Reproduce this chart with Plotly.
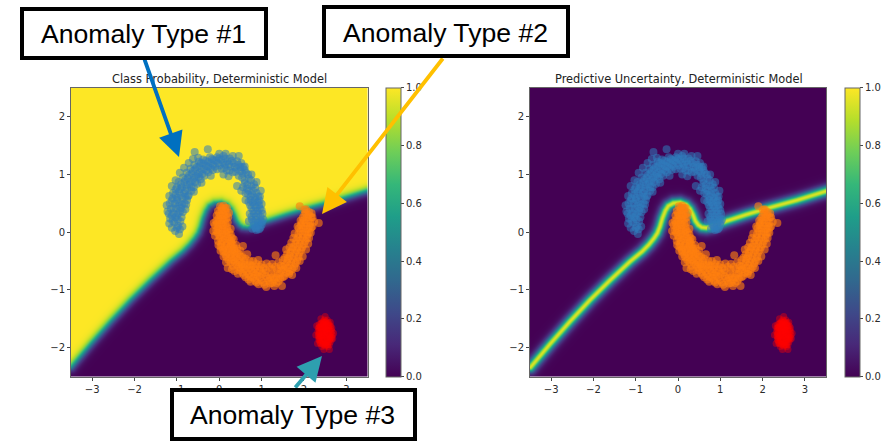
import numpy as np
import plotly.graph_objects as go

W, H = 884, 441

TITLES = ["Class Probability, Deterministic Model", "Predictive Uncertainty, Deterministic Model"]
BOX_LABELS = ["Anomaly Type #1", "Anomaly Type #2", "Anomaly Type #3"]
X_TICKS = [-3, -2, -1, 0, 1, 2, 3]
Y_TICKS = [-2, -1, 0, 1, 2]
CBAR_TICKS = [0.0, 0.2, 0.4, 0.6, 0.8, 1.0]

# decision boundary (data coordinates)
BOUNDARY_X = [-3.5, -3.03, -2.56, -2.09, -1.62, -1.14, -0.86, -0.7, -0.58, -0.5, -0.44, -0.38, -0.31, -0.24, -0.12, 0.04, 0.18, 0.27, 0.34, 0.4, 0.47, 0.55, 0.66, 0.79, 1.1, 1.6, 2.2, 2.8, 3.5]
BOUNDARY_Y = [-2.34, -1.93, -1.54, -1.17, -0.83, -0.5, -0.33, -0.21, -0.1, -0.01, 0.1, 0.25, 0.38, 0.46, 0.51, 0.52, 0.48, 0.41, 0.31, 0.2, 0.13, 0.09, 0.08, 0.1, 0.19, 0.31, 0.44, 0.56, 0.72]

BLUE_POINTS = [
    (-0.95, -0.03), (-1.04, 0.02), (-0.93, 0.05), (-1.12, 0.08), (-0.97, 0.11), (-0.87, 0.1), (-1.18, 0.15),
    (-1.06, 0.17), (-0.92, 0.19), (-1.16, 0.24), (-1.03, 0.26), (-0.89, 0.26), (-1.19, 0.32), (-1.08, 0.33),
    (-0.96, 0.33), (-0.86, 0.35), (-1.14, 0.41), (-1.02, 0.41), (-0.9, 0.42), (-0.8, 0.4), (-1.17, 0.5),
    (-1.05, 0.5), (-0.94, 0.52), (-0.82, 0.5), (-1.1, 0.59), (-0.99, 0.6), (-0.87, 0.59), (-0.76, 0.56),
    (-1.09, 0.68), (-0.95, 0.7), (-0.83, 0.68), (-0.72, 0.64), (-1.0, 0.78), (-0.88, 0.78), (-0.76, 0.76),
    (-0.66, 0.72), (-0.96, 0.87), (-0.82, 0.87), (-0.7, 0.83), (-0.6, 0.78), (-0.86, 0.95), (-0.74, 0.94),
    (-0.63, 0.9), (-0.52, 0.84), (-0.77, 1.03), (-0.65, 1.02), (-0.54, 0.97), (-0.44, 0.92), (-0.68, 1.1),
    (-0.57, 1.09), (-0.46, 1.04), (-0.35, 0.98), (-0.59, 1.17), (-0.47, 1.15), (-0.36, 1.1), (-0.26, 1.04),
    (-0.58, 1.39), (-0.48, 1.22), (-0.37, 1.19), (-0.26, 1.14), (-0.15, 1.08), (-0.38, 1.26), (-0.27, 1.44),
    (-0.26, 1.22), (-0.15, 1.17), (-0.05, 1.09), (-0.22, 1.3), (-0.13, 1.25), (-0.03, 1.2), (0.06, 1.1),
    (-0.05, 1.3), (0.05, 1.25), (0.14, 1.17), (0.18, 1.07), (0.1, 1.32), (0.19, 1.23), (0.27, 1.14),
    (0.32, 1.04), (0.25, 1.28), (0.34, 1.2), (0.41, 1.1), (0.46, 1.32), (0.42, 1.23), (0.5, 1.13),
    (0.46, 0.98), (0.55, 1.02), (0.52, 1.2), (0.6, 1.08), (0.6, 0.9), (0.68, 1.0), (0.56, 0.78),
    (0.66, 0.82), (0.75, 0.9), (0.82, 0.83), (0.7, 0.72), (0.8, 0.72), (0.62, 0.68), (0.88, 0.68),
    (0.74, 0.62), (0.85, 0.6), (0.96, 0.62), (0.69, 0.53), (0.79, 0.52), (0.91, 0.52), (1.0, 0.49),
    (0.76, 0.42), (0.86, 0.43), (0.96, 0.41), (0.72, 0.32), (0.82, 0.32), (0.92, 0.32), (1.02, 0.32),
    (0.77, 0.22), (0.87, 0.22), (0.97, 0.2), (1.04, 0.22), (0.7, 0.19), (0.82, 0.13), (0.92, 0.12),
    (1.0, 0.13), (0.78, 0.06), (0.88, 0.04), (0.97, 0.08), (0.86, 0.07),
    # points filling the dense middle of the band
    (-1.0, 0.08), (-1.1, 0.2), (-0.98, 0.22), (-1.12, 0.29), (-1.0, 0.3), (-0.92, 0.37), (-1.08, 0.42), (-0.96, 0.46),
    (-1.12, 0.55), (-1.0, 0.56), (-0.88, 0.48), (-1.03, 0.65), (-0.91, 0.64), (-0.8, 0.62), (-1.03, 0.74), (-0.92, 0.75),
    (-0.8, 0.72), (-0.9, 0.83), (-0.77, 0.82), (-0.66, 0.78), (-0.8, 0.91), (-0.68, 0.88), (-0.57, 0.87), (-0.71, 0.99),
    (-0.59, 0.95), (-0.48, 0.96), (-0.62, 1.06), (-0.51, 1.01), (-0.4, 1.01), (-0.53, 1.13), (-0.42, 1.09), (-0.3, 1.07),
    (-0.43, 1.2), (-0.31, 1.15), (-0.2, 1.11), (-0.32, 1.24), (-0.2, 1.2), (-0.1, 1.14), (-0.17, 1.27), (-0.07, 1.24),
    (0.01, 1.16), (0.0, 1.28), (0.1, 1.2), (0.12, 1.12), (0.14, 1.28), (0.23, 1.18), (0.24, 1.07), (0.3, 1.24),
    (0.37, 1.13), (0.38, 1.05), (0.45, 1.17), (0.5, 1.06), (0.56, 1.13), (0.54, 0.95), (0.63, 1.03), (0.6, 0.85),
    (0.7, 0.93), (0.66, 0.76), (0.76, 0.8), (0.85, 0.77), (0.68, 0.66), (0.78, 0.66), (0.92, 0.62), (0.74, 0.56),
    (0.84, 0.55), (0.95, 0.55), (0.73, 0.47), (0.83, 0.47), (0.94, 0.47), (0.8, 0.37), (0.9, 0.37), (1.0, 0.38),
    (0.76, 0.27), (0.87, 0.27), (0.97, 0.27), (0.81, 0.18), (0.92, 0.17), (1.01, 0.18), (0.85, 0.09), (0.94, 0.05),
    # points at the outer and inner rim
    (-1.22, 0.36), (-1.24, 0.47), (-1.18, 0.63), (-1.12, 0.8), (-1.03, 0.9), (-0.93, 1.03), (-0.83, 1.12), (-0.72, 1.2),
    (-0.62, 1.27), (-0.5, 1.29), (0.0, 1.36), (0.15, 1.36), (0.32, 1.32), (0.6, 1.14), (0.76, 1.0), (0.88, 0.87),
    (0.98, 0.72), (-0.78, 0.48), (-0.74, 0.62), (-0.6, 0.7), (-0.42, 0.86), (-0.2, 0.98), (0.1, 1.0), (0.22, 0.97),
    (0.42, 0.8), (0.52, 0.72), (0.62, 0.56),
]

ORANGE_POINTS = [
    (0.02, 0.45), (0.1, 0.46), (0.18, 0.42), (-0.03, 0.37), (0.06, 0.38), (0.14, 0.37), (0.23, 0.34),
    (-0.06, 0.29), (0.03, 0.29), (0.12, 0.29), (0.21, 0.26), (-0.07, 0.2), (0.02, 0.2), (0.11, 0.21),
    (0.2, 0.17), (-0.1, 0.12), (-0.01, 0.11), (0.09, 0.12), (0.18, 0.09), (0.27, 0.06), (-0.07, 0.03),
    (0.03, 0.03), (0.13, 0.02), (0.23, 0.0), (-0.1, -0.06), (0.0, -0.06), (0.1, -0.07), (0.2, -0.09),
    (0.3, -0.1), (-0.03, -0.15), (0.07, -0.15), (0.17, -0.18), (0.28, -0.19), (0.03, -0.25), (0.13, -0.26),
    (0.24, -0.27), (0.35, -0.28), (0.1, -0.34), (0.2, -0.35), (0.31, -0.36), (0.42, -0.36), (0.17, -0.43),
    (0.28, -0.44), (0.39, -0.44), (0.5, -0.42), (0.27, -0.52), (0.37, -0.53), (0.48, -0.52), (0.59, -0.5),
    (0.2, -0.62), (0.36, -0.67), (0.46, -0.6), (0.56, -0.6), (0.67, -0.58), (0.55, -0.7), (0.65, -0.68),
    (0.76, -0.66), (0.86, -0.6), (0.62, -0.78), (0.74, -0.77), (0.85, -0.74), (0.96, -0.66), (0.74, -0.86),
    (0.85, -0.84), (0.96, -0.78), (1.07, -0.7), (0.93, -0.9), (1.04, -0.87), (1.14, -0.8), (1.24, -0.72),
    (1.11, -0.95), (1.2, -0.89), (1.3, -0.82), (1.38, -0.72), (1.3, -0.93), (1.4, -0.85), (1.48, -0.93),
    (1.5, -0.78), (1.47, -0.66), (1.58, -0.7), (1.66, -0.68), (1.55, -0.57), (1.66, -0.57), (1.77, -0.6),
    (1.62, -0.46), (1.73, -0.47), (1.84, -0.49), (1.68, -0.35), (1.79, -0.36), (1.89, -0.36), (1.75, -0.25),
    (1.85, -0.25), (1.96, -0.26), (1.82, -0.14), (1.92, -0.14), (2.03, -0.15), (1.87, -0.03), (1.97, -0.03),
    (2.08, -0.04), (1.88, 0.07), (1.98, 0.07), (2.09, 0.06), (2.17, 0.08), (1.95, 0.16), (2.05, 0.16),
    (2.15, 0.16), (2.35, 0.16), (2.24, 0.18), (1.97, 0.25), (2.07, 0.26), (2.17, 0.26), (2.04, 0.34),
    (2.12, 0.35), (2.18, 0.33), (2.05, 0.4), (2.01, 0.39), (1.9, 0.45),
    # points filling the dense middle of the band
    (0.06, 0.42), (0.14, 0.42), (0.0, 0.33), (0.09, 0.33), (0.18, 0.31), (-0.02, 0.24), (0.07, 0.24), (0.16, 0.23),
    (-0.05, 0.15), (0.05, 0.15), (0.15, 0.15), (-0.03, 0.07), (0.08, 0.07), (0.19, 0.04), (-0.04, -0.01), (0.07, -0.02),
    (0.17, -0.03), (0.27, -0.04), (0.02, -0.1), (0.13, -0.12), (0.24, -0.14), (0.05, -0.2), (0.16, -0.22), (0.27, -0.23),
    (0.09, -0.3), (0.19, -0.3), (0.3, -0.31), (0.15, -0.39), (0.26, -0.39), (0.37, -0.4), (0.22, -0.48), (0.33, -0.48),
    (0.44, -0.48), (0.32, -0.58), (0.42, -0.56), (0.53, -0.55), (0.48, -0.66), (0.6, -0.64), (0.71, -0.62), (0.58, -0.74),
    (0.69, -0.73), (0.8, -0.7), (0.9, -0.7), (0.69, -0.82), (0.8, -0.79), (0.91, -0.76), (1.01, -0.72), (0.88, -0.87),
    (0.99, -0.83), (1.1, -0.76), (1.2, -0.78), (1.07, -0.91), (1.17, -0.84), (1.27, -0.77), (1.35, -0.78), (1.25, -0.88),
    (1.35, -0.88), (1.44, -0.8), (1.43, -0.72), (1.54, -0.76), (1.52, -0.64), (1.62, -0.62), (1.72, -0.64), (1.6, -0.52),
    (1.7, -0.52), (1.8, -0.54), (1.66, -0.41), (1.76, -0.42), (1.87, -0.43), (1.72, -0.3), (1.83, -0.31), (1.93, -0.31),
    (1.8, -0.2), (1.9, -0.2), (2.0, -0.21), (1.86, -0.09), (1.97, -0.09), (2.07, -0.1), (1.92, 0.02), (2.03, 0.01),
    (2.12, 0.0), (1.93, 0.12), (2.02, 0.11), (2.13, 0.11), (2.0, 0.21), (2.11, 0.21), (2.01, 0.3), (2.11, 0.3),
    # points widening the band on its inner and outer rim
    (0.28, -0.15), (0.32, -0.22), (0.36, -0.32), (0.42, -0.28), (0.47, -0.38), (0.56, -0.24), (0.55, -0.43), (0.62, -0.46),
    (0.66, -0.38), (0.72, -0.5), (0.8, -0.5), (0.78, -0.58), (0.88, -0.55), (0.92, -0.48), (1.0, -0.56), (1.05, -0.62),
    (1.12, -0.54), (1.18, -0.6), (1.25, -0.55), (1.33, -0.4), (1.32, -0.6), (1.4, -0.52), (1.45, -0.58), (1.5, -0.48),
    (1.55, -0.44), (1.6, -0.38), (1.58, -0.3), (1.66, -0.26), (1.7, -0.18), (1.75, -0.1), (1.78, -0.02), (1.85, 0.1),
    (1.92, 0.2), (2.1, -0.2), (2.12, -0.1), (2.16, -0.01), (2.2, 0.1), (2.2, 0.26), (2.05, -0.3), (1.97, -0.42),
    (1.9, -0.5), (1.82, -0.62), (1.72, -0.74), (-0.02, -0.22), (0.03, -0.32), (0.1, -0.42), (0.16, -0.52), (0.3, -0.64),
    (0.44, -0.72), (0.5, -0.62), (0.6, -0.56), (0.72, -0.56), (0.84, -0.64), (0.96, -0.6), (1.1, -0.66), (1.24, -0.64),
    (1.36, -0.64), (1.5, -0.6), (0.5, -0.32), (0.4, -0.22), (0.34, -0.12), (-0.14, 0.02), (-0.13, 0.16), (1.65, -0.72),
]

RED_POINTS = [
    (2.49, -1.75), (2.44, -1.68), (2.55, -1.7), (2.4, -1.8), (2.58, -1.82), (2.46, -1.9), (2.53, -1.6),
    (2.42, -1.58), (2.6, -1.62), (2.36, -1.7), (2.63, -1.74), (2.35, -1.86), (2.62, -1.9), (2.5, -1.97),
    (2.42, -1.98), (2.57, -1.98), (2.48, -1.52), (2.55, -1.52), (2.4, -1.5), (2.66, -1.66), (2.3, -1.62),
    (2.28, -1.78), (2.68, -1.84), (2.32, -1.93), (2.7, -1.75), (2.47, -2.03), (2.6, -2.03), (2.5, -1.46),
    (2.43, -1.75), (2.52, -1.82), (2.47, -1.66), (2.56, -1.77), (2.45, -1.85), (2.5, -1.62), (2.53, -1.9),
    (2.4, -1.66), (2.58, -1.67), (2.38, -1.92), (2.44, -1.55), (2.62, -1.56), (2.6, -1.95), (2.36, -1.6),
    (2.49, -1.7), (2.51, -1.79), (2.46, -1.8), (2.54, -1.65), (2.41, -1.72), (2.59, -1.76),
    (2.45, -1.6), (2.5, -1.56), (2.56, -1.58), (2.38, -1.64), (2.44, -1.63), (2.52, -1.68), (2.6, -1.7),
    (2.37, -1.75), (2.43, -1.78), (2.48, -1.74), (2.55, -1.74), (2.61, -1.8), (2.38, -1.83), (2.43, -1.87),
    (2.49, -1.85), (2.56, -1.86), (2.6, -1.86), (2.4, -1.93), (2.47, -1.94), (2.53, -1.95), (2.57, -1.92),
    (2.45, -1.72), (2.5, -1.66), (2.55, -1.82), (2.42, -1.83), (2.58, -1.62), (2.47, -1.59), (2.53, -1.72),
    (2.34, -1.66), (2.33, -1.72), (2.34, -1.8), (2.35, -1.76), (2.36, -1.65), (2.37, -1.88), (2.66, -1.72),
    (2.67, -1.78), (2.65, -1.82), (2.64, -1.68), (2.65, -1.86), (2.63, -1.62), (2.4, -1.58), (2.46, -1.56),
    (2.58, -1.57), (2.52, -1.55), (2.44, -1.94), (2.5, -1.92), (2.56, -1.95), (2.36, -1.82), (2.62, -1.84),
]

# panel rectangles in window pixels
LEFT = (71, 367.5)
RIGHT = (530, 826)
TOP, BOTTOM = 88, 376.5


def field():
    """Turn the read boundary into the colour field of both images."""
    gx = np.linspace(-3.5, 3.5, 297)
    gy = np.linspace(-2.5, 2.5, 289)
    X, Y = np.meshgrid(gx, gy)
    sx, sy = 296.5 / 7, 288.5 / 5
    bx, by = np.array(BOUNDARY_X) * sx, np.array(BOUNDARY_Y) * sy
    px, py = X * sx, Y * sy
    d2 = np.full(X.shape, np.inf)
    for i in range(len(bx) - 1):
        ax_, ay_ = bx[i], by[i]
        dx, dy = bx[i + 1] - ax_, by[i + 1] - ay_
        t = np.clip(((px - ax_) * dx + (py - ay_) * dy) / (dx * dx + dy * dy), 0, 1)
        d2 = np.minimum(d2, (px - ax_ - t * dx) ** 2 + (py - ay_ - t * dy) ** 2)
    above = Y > np.interp(X, BOUNDARY_X, BOUNDARY_Y)
    signed = np.where(above, 1, -1) * np.sqrt(d2)
    p = 1 / (1 + np.exp(-signed / 2.3))
    return gx, gy, p, 4 * p * (1 - p) * 0.94


gx, gy, prob, unc = field()

fig = go.Figure()


def colorbar(x_px):
    return dict(
        x=x_px / W, xanchor="left", xpad=0, thickness=15, thicknessmode="pixels",
        len=(BOTTOM - TOP) / H, lenmode="fraction", y=1 - (TOP + BOTTOM) / 2 / H, yanchor="middle", ypad=0,
        tickvals=CBAR_TICKS, ticktext=[f"{v:.1f}" for v in CBAR_TICKS], ticks="outside", ticklen=3,
        tickcolor="#444", tickfont=dict(family="DejaVu Sans", size=10, color="#2a2a2a"),
        outlinecolor="#666", outlinewidth=1,
    )


for i, (z, cbx) in enumerate([(prob, 386), (unc, 845)]):
    xa, ya = ("x", "y") if i == 0 else ("x2", "y2")
    fig.add_trace(go.Heatmap(x=gx, y=gy, z=z, zmin=0, zmax=1, colorscale="Viridis", xaxis=xa, yaxis=ya,
                             colorbar=colorbar(cbx), hoverinfo="skip"))
    for pts, col, size, op in [(BLUE_POINTS, "#2f7cbb", 8, 0.55), (ORANGE_POINTS, "#ff7f0e", 8, 0.62),
                               (RED_POINTS, "#ff0000", 7, 0.4)]:
        fig.add_trace(go.Scatter(x=[p[0] for p in pts], y=[p[1] for p in pts], mode="markers", xaxis=xa, yaxis=ya,
                                 showlegend=False, hoverinfo="skip",
                                 marker=dict(color=col, size=size, opacity=op, line=dict(width=0))))

axis_common = dict(showgrid=False, zeroline=False, ticks="outside", ticklen=3, tickcolor="#444",
                   tickfont=dict(family="DejaVu Sans", size=10, color="#2a2a2a"),
                   showline=True, linecolor="#666", linewidth=1, mirror=True)
ydom = [1 - BOTTOM / H, 1 - TOP / H]
fig.update_layout(
    width=W, height=H, margin=dict(l=0, r=0, t=0, b=0), paper_bgcolor="white", plot_bgcolor="white", showlegend=False,
    xaxis=dict(domain=[LEFT[0] / W, LEFT[1] / W], range=[-3.5, 3.5], tickvals=X_TICKS, anchor="y", **axis_common),
    yaxis=dict(domain=ydom, range=[-2.5, 2.5], tickvals=Y_TICKS, anchor="x", **axis_common),
    xaxis2=dict(domain=[RIGHT[0] / W, RIGHT[1] / W], range=[-3.5, 3.5], tickvals=X_TICKS, anchor="y2", **axis_common),
    yaxis2=dict(domain=ydom, range=[-2.5, 2.5], tickvals=Y_TICKS, anchor="x2", **axis_common),
)

for title, cx in [(TITLES[0], 219.5), (TITLES[1], 678.5)]:
    fig.add_annotation(text=title, xref="paper", yref="paper", x=cx / W, y=1 - 79 / H, xanchor="center",
                       yanchor="middle", showarrow=False, font=dict(family="DejaVu Sans", size=11.4, color="#222"))

# arrows: (tail px, head px, colour)
for (tx, ty), (hx, hy), col in [((144, 58), (179, 157), "#0070C0"),
                                ((444, 57), (322, 214), "#FFC000"),
                                ((294, 389), (322, 356), "#2E9FAF")]:
    fig.add_annotation(xref="paper", yref="paper", x=hx / W, y=1 - hy / H, text="", showarrow=True,
                       axref="pixel", ayref="pixel", ax=tx - hx, ay=ty - hy, arrowcolor=col, arrowwidth=3.8,
                       arrowhead=2, arrowsize=1.3, standoff=0, startstandoff=0)

for label, (x0, y0, x1, y1), tcy in zip(BOX_LABELS, [(20, 7, 268, 60), (322, 5, 570, 58), (170, 388, 417, 441)],
                                        [34.5, 32.5, 415]):
    fig.add_annotation(text=" ", xref="paper", yref="paper", x=(x0 + x1) / 2 / W, y=1 - (y0 + y1) / 2 / H,
                       xanchor="center", yanchor="middle", showarrow=False, width=x1 - x0 - 8, height=y1 - y0 - 8,
                       bgcolor="white", bordercolor="black", borderwidth=4, borderpad=0,
                       font=dict(family="Liberation Sans", size=12, color="black"))
    fig.add_annotation(text=label, xref="paper", yref="paper", x=(x0 + x1) / 2 / W - 1 / W, y=1 - tcy / H,
                       xanchor="center", yanchor="middle", showarrow=False,
                       font=dict(family="Liberation Sans", size=26.6, color="black"))

fig.write_html("out.html", config={"displayModeBar": False},
               post_script="document.body.style.margin='0';document.body.style.overflow='hidden';")
